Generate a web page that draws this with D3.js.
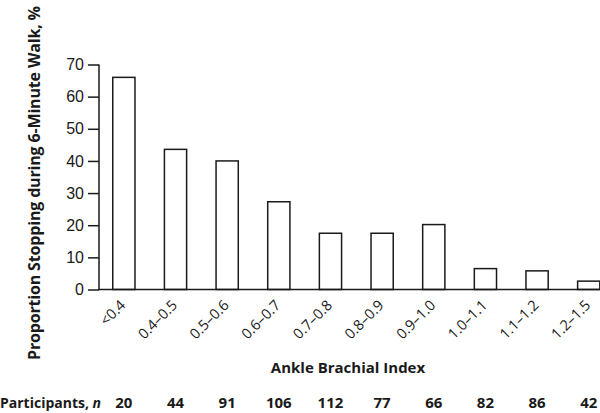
<!DOCTYPE html>
<html>
<head>
<meta charset="utf-8">
<script src="https://cdn.jsdelivr.net/npm/d3@7"></script>
<style>
  body { margin: 0; background: #fff; }
  svg { font-family: "Open Sans", "Noto Sans", sans-serif; }
</style>
</head>
<body>
<svg id="chart"></svg>
<script>
// data
var categories = ["<0.4", "0.4\u20130.5", "0.5\u20130.6", "0.6\u20130.7", "0.7\u20130.8",
                  "0.8\u20130.9", "0.9\u20131.0", "1.0\u20131.1", "1.1\u20131.2", "1.2\u20131.5"];
var proportion = [66, 43.6, 40, 27.3, 17.5, 17.5, 20.2, 6.5, 5.8, 2.6];
var participants = [20, 44, 91, 106, 112, 77, 66, 82, 86, 42];
var yTicks = [0, 10, 20, 30, 40, 50, 60, 70];

var width = 600, height = 413;

var svg = d3.select("#chart")
    .attr("width", width)
    .attr("height", height);

var x = d3.scaleBand()
    .domain(categories)
    .range([98.3, 614.3])
    .paddingInner(0.57)
    .paddingOuter(0.28);

var y = d3.scaleLinear()
    .domain([0, 70])
    .range([289.5, 64.5]);

var ink = "#1a1a1a";

// bars
svg.selectAll("rect.bar")
    .data(proportion)
    .enter().append("rect")
    .attr("class", "bar")
    .attr("x", function(d, i) { return x(categories[i]); })
    .attr("y", function(d) { return y(d); })
    .attr("width", x.bandwidth())
    .attr("height", function(d) { return y(0) - y(d); })
    .attr("fill", "#fff")
    .attr("stroke", ink)
    .attr("stroke-width", 1.5);

// y axis
var yAxis = svg.append("g")
    .attr("transform", "translate(99,0)")
    .call(d3.axisLeft(y).tickValues(yTicks).tickSize(11).tickSizeOuter(0).tickPadding(4));
yAxis.select(".domain").attr("stroke", ink).attr("stroke-width", 1.5)
    .attr("d", "M0," + y(70) + "V" + y(0));
yAxis.selectAll(".tick line").attr("stroke", ink).attr("stroke-width", 1.5);
yAxis.selectAll(".tick text").attr("fill", ink).style("font-size", "16px");

// x axis baseline
svg.append("line")
    .attr("x1", 98.3).attr("x2", width)
    .attr("y1", y(0)).attr("y2", y(0))
    .attr("stroke", ink).attr("stroke-width", 1.5);

// category labels, rotated
svg.selectAll("text.cat")
    .data(categories)
    .enter().append("text")
    .attr("class", "cat")
    .attr("transform", function(d) {
        return "translate(" + (x(d) + x.bandwidth() / 2 - 1) + "," + (y(0) + 13) + ") rotate(-45)";
    })
    .attr("text-anchor", "end")
    .attr("dy", "0.35em")
    .attr("fill", ink)
    .style("font-size", "14.5px")
    .text(function(d) { return d; });

// axis titles
svg.append("text")
    .attr("transform", "translate(40,183) rotate(-90)")
    .attr("text-anchor", "middle")
    .attr("fill", ink)
    .attr("textLength", 354)
    .attr("lengthAdjust", "spacing")
    .style("font-size", "16px")
    .style("font-weight", "bold")
    .text("Proportion Stopping during 6-Minute Walk, %");

svg.append("text")
    .attr("x", 348)
    .attr("y", 373)
    .attr("text-anchor", "middle")
    .attr("fill", ink)
    .style("font-size", "15px")
    .style("font-weight", "bold")
    .text("Ankle Brachial Index");

// participants row
var row = svg.append("text")
    .attr("x", 0)
    .attr("y", 408)
    .attr("fill", ink)
    .style("font-size", "14px")
    .style("font-weight", "bold");
row.append("tspan").text("Participants, ");
row.append("tspan").style("font-style", "italic").text("n");

svg.selectAll("text.n")
    .data(participants)
    .enter().append("text")
    .attr("class", "n")
    .attr("x", function(d, i) { return x(categories[i]) + x.bandwidth() / 2; })
    .attr("y", 408)
    .attr("text-anchor", "middle")
    .attr("fill", ink)
    .style("font-size", "15px")
    .style("font-weight", "bold")
    .text(function(d) { return d; });
</script>
</body>
</html>
